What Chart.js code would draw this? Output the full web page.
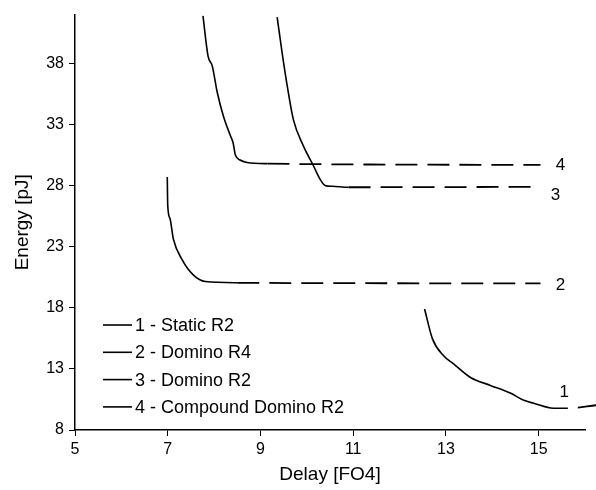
<!DOCTYPE html>
<html>
<head>
<meta charset="utf-8">
<script src="https://cdn.jsdelivr.net/npm/chart.js@4/dist/chart.umd.min.js"></script>
<style>
html,body{margin:0;padding:0;background:#fff;}
#wrap{width:596px;height:490px;}
</style>
</head>
<body>
<div id="wrap"><canvas id="c" width="596" height="490"></canvas></div>
<script>
// ---- data ----
const seriesNames = ["1 - Static R2", "2 - Domino R4", "3 - Domino R2", "4 - Compound Domino R2"];
const endLabels = ["1", "2", "3", "4"];

const s1x = [12.54, 12.71, 12.95, 13.16, 13.53, 13.96, 14.40, 14.68, 14.89, 15.32, 15.63, 16.25];
const s1y = [17.9, 15.46, 14.08, 13.43, 12.3, 11.65, 11.0, 10.43, 10.19, 9.78, 9.78, 10.03];
const s2x = [6.99, 7.0, 7.05, 7.12, 7.31, 7.55, 7.81, 8.5, 15.04];
const s2y = [28.7, 26.4, 25.3, 23.65, 21.95, 20.7, 20.15, 20.05, 20.0];
const s3x = [9.36, 9.47, 9.58, 9.71, 9.92, 10.14, 10.29, 10.4, 10.55, 10.9, 15.04];
const s3y = [41.8, 38.8, 36.1, 33.4, 31.3, 29.65, 28.5, 28.0, 27.95, 27.87, 27.9];
const s4x = [7.76, 7.87, 7.96, 8.07, 8.2, 8.35, 8.41, 8.46, 8.56, 8.71, 9.15, 15.04];
const s4y = [41.9, 38.6, 37.8, 35.6, 33.7, 32.1, 31.5, 30.5, 30.1, 29.9, 29.8, 29.7];
// index from which each series is dashed (flat tail)
const dashFrom = [10, 7, 9, 10];

const xTicks = [5, 7, 9, 11, 13, 15];
const yTicks = [8, 13, 18, 23, 28, 33, 38];
const xRange = [5, 16];
const yRange = [8, 42];

// ---- build ----
const xs = [s1x, s2x, s3x, s4x];
const ys = [s1y, s2y, s3y, s4y];
const FONT = "'Liberation Sans', Arial, Helvetica, sans-serif";

const datasets = xs.map((xa, i) => ({
  label: seriesNames[i],
  data: xa.map((x, j) => ({x: x, y: ys[i][j]})),
  borderColor: '#000',
  borderWidth: 1.6,
  pointRadius: 0,
  cubicInterpolationMode: 'monotone',
  fill: false,
  clip: false,
  segment: {
    borderDash: ctx => ctx.p0DataIndex >= dashFrom[i] ? [22, 10] : undefined,
    borderDashOffset: ctx => (i === 0 && ctx.p0DataIndex >= dashFrom[i]) ? 22 : 0,
    borderWidth: ctx => ctx.p0DataIndex >= dashFrom[i] ? 1.8 : 1.6
  }
}));

// custom in-plot legend + end labels
const annot = {
  id: 'annot',
  afterDatasetsDraw(chart) {
    const c = chart.ctx;
    const xs_ = chart.scales.x, ys_ = chart.scales.y;
    c.save();
    c.fillStyle = '#000';
    c.strokeStyle = '#000';
    c.textBaseline = 'middle';
    c.textAlign = 'left';
    // legend
    c.font = '18px ' + FONT;
    const lx = 103, ly = 325, dy = 27.3;
    chart.data.datasets.forEach((ds, i) => {
      const y = ly + i * dy;
      c.lineWidth = 1.6;
      c.beginPath();
      c.moveTo(lx, y);
      c.lineTo(lx + 29, y);
      c.stroke();
      c.fillText(ds.label, lx + 32, y + 1);
    });
    // end labels
    c.font = '17px ' + FONT;
    const offs = [[6, -16], [20, 2], [15, 8], [20, 0]];
    chart.data.datasets.forEach((ds, i) => {
      const p = i === 0 ? ds.data[9] : ds.data[ds.data.length - 1];
      const px = xs_.getPixelForValue(p.x) + offs[i][0];
      const py = ys_.getPixelForValue(p.y) + offs[i][1];
      c.textAlign = i === 0 ? 'left' : 'center';
      c.fillText(endLabels[i], px, py);
    });
    c.restore();
  }
};

new Chart(document.getElementById('c'), {
  type: 'line',
  data: { datasets: datasets },
  plugins: [annot],
  options: {
    responsive: false,
    animation: false,
    devicePixelRatio: 1,
    layout: { padding: { left: 0, right: 11, top: 12, bottom: 0 } },
    plugins: { legend: { display: false }, tooltip: { enabled: false } },
    scales: {
      x: {
        type: 'linear',
        min: xRange[0], max: xRange[1],
        afterBuildTicks: s => { s.ticks = xTicks.map(v => ({value: v})); },
        afterFit: s => { s.height = 60; },
        grid: { display: true, drawOnChartArea: false, drawTicks: true, tickLength: 6, color: '#000', lineWidth: 1 },
        border: { display: true, color: '#000', width: 1.5 },
        ticks: { color: '#000', font: { size: 16, family: FONT }, padding: 4, maxRotation: 0 },
        title: { display: true, text: 'Delay [FO4]', color: '#000', font: { size: 19, family: FONT }, padding: { top: 0, bottom: 4 } }
      },
      y: {
        type: 'linear',
        min: yRange[0], max: yRange[1],
        afterBuildTicks: s => { s.ticks = yTicks.map(v => ({value: v})); },
        afterFit: s => { s.width = 75; },
        grid: { display: true, drawOnChartArea: false, drawTicks: true, tickLength: 6, color: '#000', lineWidth: 1 },
        border: { display: true, color: '#000', width: 1.5 },
        ticks: { color: '#000', font: { size: 16, family: FONT }, padding: 5 },
        title: { display: true, text: 'Energy [pJ]', color: '#000', font: { size: 19, family: FONT }, padding: { top: 11, bottom: 0 } }
      }
    }
  }
});
</script>
</body>
</html>
